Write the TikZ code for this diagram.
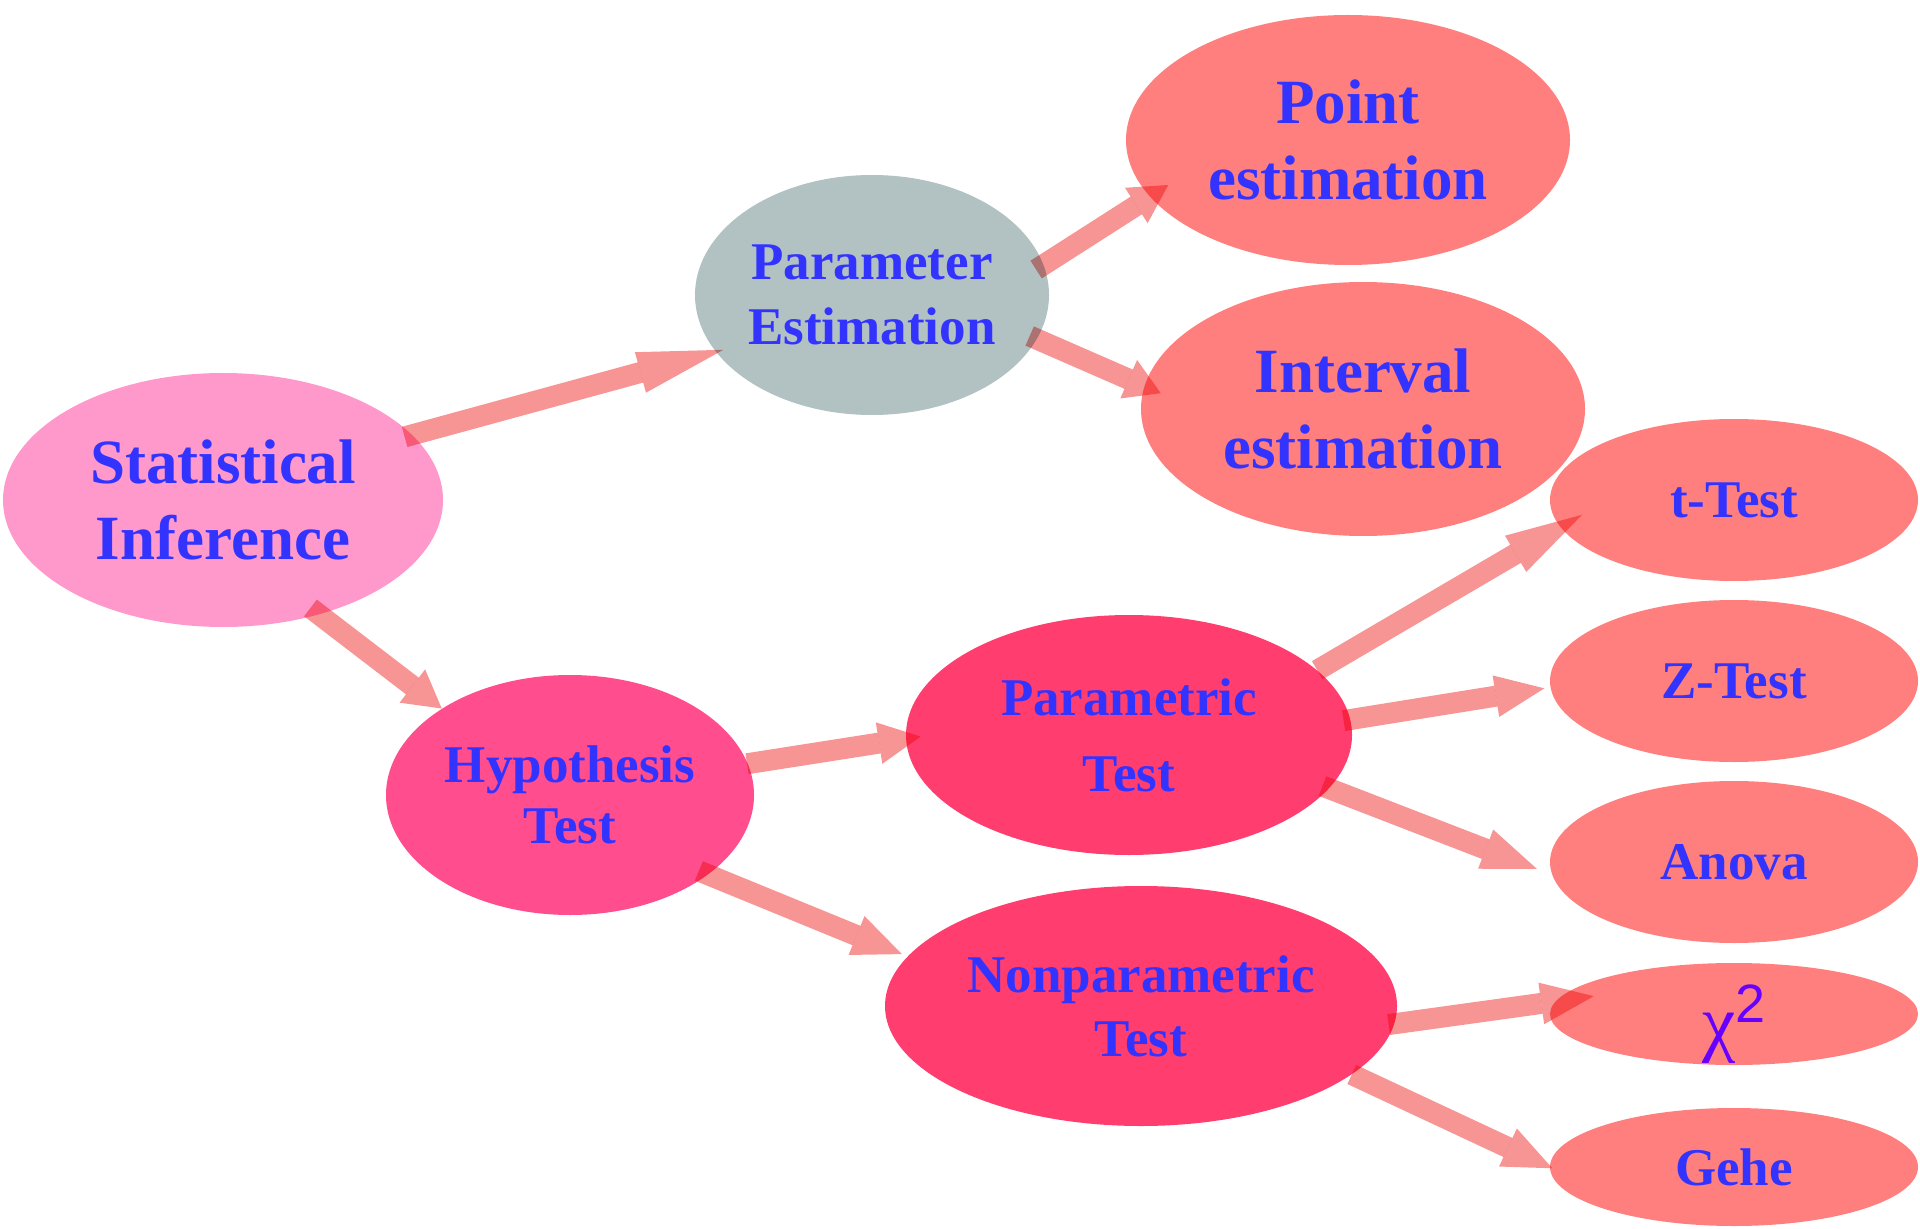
\documentclass[tikz,border=0pt]{standalone}
\usepackage{fontspec}
\setmainfont{Liberation Serif}
\newfontfamily\chifont{Liberation Sans}
\usetikzlibrary{arrows.meta,shapes.geometric,positioning}
\definecolor{infpink}{HTML}{FF99CC}
\definecolor{estgrey}{HTML}{B2C2C2}
\definecolor{leafred}{HTML}{FF7F7F}
\definecolor{hyppink}{HTML}{FF4D8D}
\definecolor{testred}{HTML}{FF3D6E}
\definecolor{txtblue}{HTML}{3333FF}
\definecolor{chipurple}{HTML}{6600FF}
\definecolor{arrowpink}{HTML}{F79595}

\begin{document}
\begin{tikzpicture}[
    x=0.5pt, y=0.5pt,
    on grid,
    blob/.style={ellipse, inner sep=0pt, align=center, text=txtblue},
    bigtxt/.style={font=\fontsize{31.5}{38}\selectfont\bfseries},
    midtxt/.style={font=\fontsize{26.5}{#1}\selectfont\bfseries},
    midtxt/.default=32,
    leaf/.style={blob, midtxt, fill=leafred, minimum width=184pt, minimum height=81pt},
    conn/.style={line width=10.5pt, draw=arrowpink, blend mode=multiply, -{Triangle[length=#1, width=21pt, line width=0pt, fill=arrowpink]}}
]
    \useasboundingbox (0,0) rectangle (1920,1228);

    % Root
    \node[blob, bigtxt, fill=infpink, minimum width=220pt, minimum height=127pt] (si) at (223,728) {Statistical\\Inference};

    % Estimation branch
    \node[blob, midtxt=32.5, fill=estgrey, minimum width=177pt, minimum height=120pt, above right=102.5pt and 324.5pt of si] (pe) {Parameter\\Estimation};
    \node[blob, bigtxt, fill=leafred, minimum width=222pt, minimum height=125pt, above right=77.5pt and 238pt of pe] (pnt) {Point\\estimation};
    \node[blob, bigtxt, fill=leafred, minimum width=222pt, minimum height=127pt, below right=57pt and 245.5pt of pe] (intv) {Interval\\estimation};

    % Testing branch
    \node[blob, midtxt=30.5, fill=hyppink, minimum width=184pt, minimum height=120pt, below right=147.5pt and 173.5pt of si] (ht) {Hypothesis\\Test};
    \node[blob, midtxt=38, fill=testred, minimum width=223pt, minimum height=120pt, above right=30pt and 279.5pt of ht] (pt) {Parametric\\Test};
    \node[blob, midtxt=32, fill=testred, minimum width=256pt, minimum height=120pt, below right=105.5pt and 285.5pt of ht] (nt) {Nonparametric\\Test};

    % Leaves
    \node[leaf, above right=117.5pt and 302.5pt of pt] (tt) {t-Test};
    \node[leaf, below=90.5pt of tt] (zt) {Z-Test};
    \node[leaf, below=90.5pt of zt] (an) {Anova};
    \node[leaf, minimum height=51pt, text=chipurple, font=\fontsize{37.5}{40}\selectfont, text height=33pt, text depth=0pt, below=76pt of an] (chi) {χ\raisebox{12.5pt}{\chifont\fontsize{27}{27}\selectfont 2}};
    \node[leaf, minimum height=59pt, below=76.5pt of chi] (gh) {Gehe};

    % Connections
    \draw[conn=43pt, shorten <=-4pt, shorten >=-4pt] (si.19) -- (pe.200.5);
    \draw[conn=19pt, shorten <=-4.5pt, shorten >=-11pt] (pe.10) -- (pnt.196);
    \draw[conn=17.5pt, shorten <=-4pt, shorten >=-9pt] (pe.-15) -- (intv.174);
    \draw[conn=18.5pt, shorten <=-5.5pt] (si.-50) -- (ht.146);
    \draw[conn=21pt, shorten <=-0.5pt, shorten >=-7.5pt] (ht.10) -- (pt.181);
    \draw[conn=24.5pt, shorten <=-5pt, shorten >=3pt] (ht.-30) -- (nt.168);
    \draw[conn=38.5pt, shorten >=-12.5pt] (pt.19) -- (tt.189);
    \draw[conn=24.5pt, shorten <=-3.5pt, shorten >=3pt] (pt.4) -- (zt.182);
    \draw[conn=27.5pt, shorten <=-3.5pt, shorten >=8pt] (pt.-15) -- (an.184);
    \draw[conn=26.5pt, shorten <=-3pt, shorten >=-19.5pt] (nt.-4.5) -- (chi.176);
    \draw[conn=24.5pt, shorten >=-1.5pt] (nt.-18) -- (gh.180);
\end{tikzpicture}
\end{document}
